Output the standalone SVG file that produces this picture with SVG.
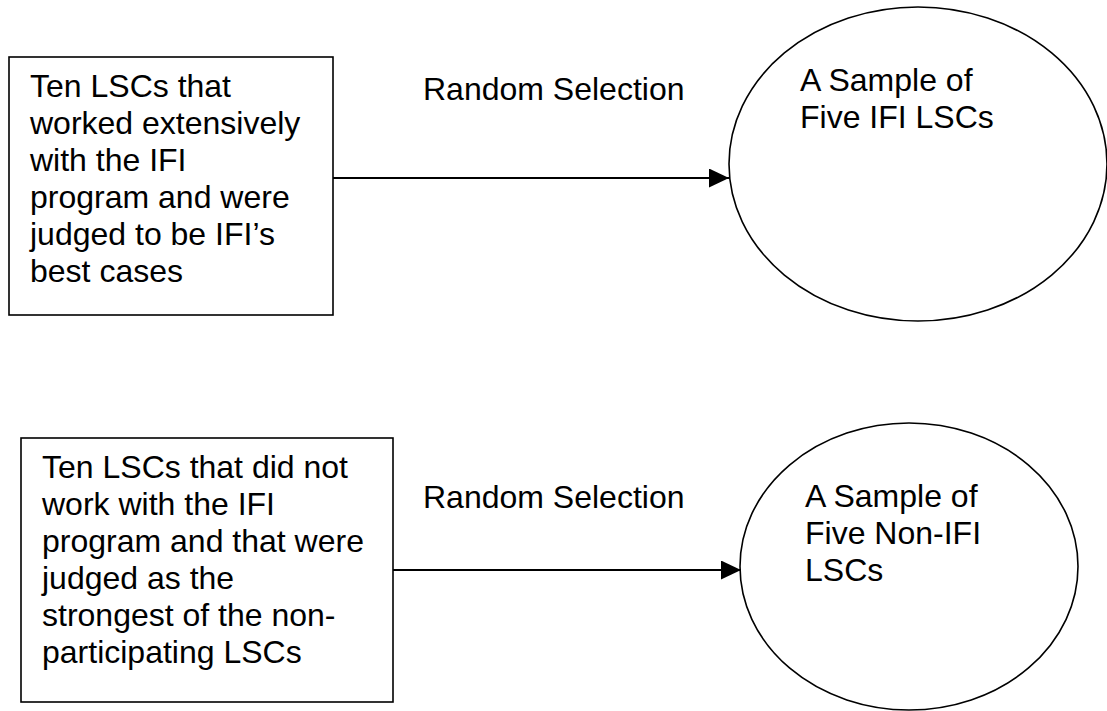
<svg xmlns="http://www.w3.org/2000/svg" width="1107" height="711" viewBox="0 0 1107 711">
<defs>
<style>
.shape{fill:#fff;stroke:#000;stroke-width:1.6}
.t{font-family:"Liberation Sans",Arial,sans-serif;font-size:32px;fill:#000}
.conn{stroke:#000;stroke-width:1.8;fill:none}
</style>
<marker id="ah" markerWidth="20" markerHeight="19" refX="20" refY="9.5" orient="auto" markerUnits="userSpaceOnUse">
<path d="M0,0 L20,9.5 L0,19 Z" fill="#000"/>
</marker>
</defs>
<rect width="1107" height="711" fill="#fff"/>
<g id="box1">
<rect class="shape" x="9" y="57" width="324" height="258"/>
<text class="t" x="30" y="97">Ten LSCs that</text>
<text class="t" x="30" y="134">worked extensively</text>
<text class="t" x="30" y="171">with the IFI</text>
<text class="t" x="30" y="208">program and were</text>
<text class="t" x="30" y="245">judged to be IFI’s</text>
<text class="t" x="30" y="282">best cases</text>
</g>
<g id="ellipse1">
<ellipse class="shape" cx="918" cy="164" rx="189" ry="157"/>
<text class="t" x="800" y="91">A Sample of</text>
<text class="t" x="800" y="128">Five IFI LSCs</text>
</g>
<g id="box2">
<rect class="shape" x="21" y="438" width="372" height="264"/>
<text class="t" x="42" y="478">Ten LSCs that did not</text>
<text class="t" x="42" y="515">work with the IFI</text>
<text class="t" x="42" y="552">program and that were</text>
<text class="t" x="42" y="589">judged as the</text>
<text class="t" x="42" y="626">strongest of the non-</text>
<text class="t" x="42" y="663">participating LSCs</text>
</g>
<g id="ellipse2">
<ellipse class="shape" cx="909" cy="566.5" rx="169" ry="143.5"/>
<text class="t" x="805" y="507">A Sample of</text>
<text class="t" x="805" y="544">Five Non-IFI</text>
<text class="t" x="805" y="581">LSCs</text>
</g>
<g id="connectors">
<line class="conn" x1="333" y1="178" x2="729" y2="178" marker-end="url(#ah)"/>
<text class="t" x="423" y="100">Random Selection</text>
<line class="conn" x1="393" y1="570" x2="741" y2="570" marker-end="url(#ah)"/>
<text class="t" x="423" y="508">Random Selection</text>
</g>
</svg>
